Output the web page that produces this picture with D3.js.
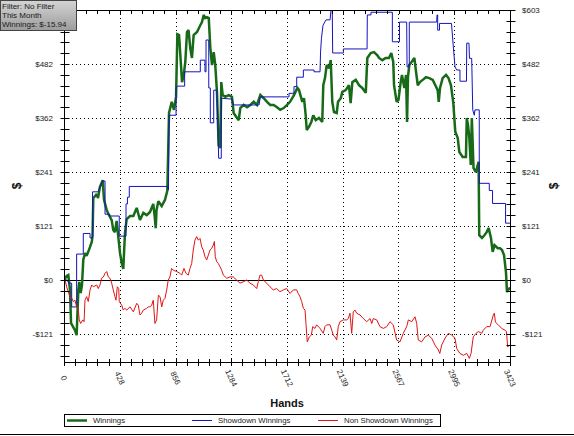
<!DOCTYPE html>
<html><head><meta charset="utf-8">
<script src="https://cdn.jsdelivr.net/npm/d3@7"></script>
<style>
html,body{margin:0;padding:0;background:#fff;}
svg{display:block;font-family:"Liberation Sans",Arial,sans-serif;}
</style></head>
<body>
<svg id="c" width="574" height="436"></svg>
<script>
// ---------- data ----------
const xTickValues = [0, 428, 856, 1284, 1712, 2139, 2567, 2995, 3423];
const xTickLabels = ["0", "428", "856", "1284", "1712", "2139", "2567", "2995", "3423"];
const yTickValues = [-120.6, 0, 120.6, 241.2, 361.8, 482.4, 603];
const yTickLabels = ["-$121", "$0", "$121", "$241", "$362", "$482", "$603"];
const seriesNames = ["Winnings", "Showdown Winnings", "Non Showdown Winnings"];
const filterLines = ["Filter: No Filter", "This Month", "Winnings: $-15.94"];

// [hand, dollars]
const winnings = [[0,0],[21,9],[33,11],[46,-22],[54,-96],[71,-105],[84,-112],[97,-123],[110,-22],[117,-4],[128,-29],[138,-11],[148,45],[161,60],[173,54],[186,63],[200,74],[213,85],[219,98],[225,183],[251,192],[261,183],[276,208],[297,223],[307,179],[328,156],[342,147],[366,134],[378,112],[391,107],[404,132],[417,96],[430,60],[443,38],[455,25],[468,105],[481,136],[507,143],[532,143],[558,161],[583,134],[609,150],[635,145],[660,152],[685,170],[695,145],[704,116],[710,156],[724,176],[750,165],[775,179],[793,199],[806,373],[827,398],[844,380],[860,409],[870,549],[883,547],[893,502],[906,442],[919,458],[931,487],[944,554],[956,558],[969,518],[982,496],[995,547],[1021,554],[1046,569],[1059,576],[1072,592],[1084,585],[1098,587],[1111,585],[1123,518],[1136,480],[1149,509],[1161,480],[1174,420],[1187,301],[1200,295],[1207,442],[1218,413],[1238,409],[1264,413],[1289,409],[1302,373],[1328,362],[1341,357],[1353,384],[1379,391],[1405,386],[1430,391],[1456,398],[1481,391],[1507,413],[1533,406],[1558,398],[1583,391],[1609,391],[1635,386],[1660,380],[1686,384],[1712,391],[1735,398],[1765,413],[1791,429],[1804,424],[1829,398],[1842,406],[1855,368],[1863,335],[1880,342],[1898,353],[1913,368],[1932,357],[1957,362],[1982,353],[1990,435],[2003,451],[2016,480],[2034,473],[2047,491],[2059,398],[2072,375],[2093,373],[2103,398],[2124,406],[2136,420],[2162,424],[2187,435],[2200,395],[2213,442],[2239,447],[2264,435],[2289,429],[2316,418],[2328,496],[2354,507],[2379,509],[2405,502],[2418,496],[2443,491],[2469,496],[2494,496],[2512,507],[2527,487],[2533,435],[2553,398],[2567,402],[2584,442],[2594,458],[2612,429],[2625,458],[2633,353],[2640,453],[2650,480],[2663,485],[2689,496],[2702,465],[2715,435],[2732,442],[2753,447],[2778,453],[2804,451],[2830,447],[2850,435],[2868,424],[2876,398],[2886,429],[2906,451],[2932,458],[2951,451],[2970,435],[2988,395],[3003,331],[3022,317],[3034,286],[3060,275],[3085,275],[3091,362],[3101,346],[3111,317],[3122,257],[3130,362],[3143,250],[3161,241],[3182,264],[3187,100],[3208,94],[3227,100],[3244,107],[3259,116],[3277,94],[3290,63],[3304,78],[3329,71],[3346,71],[3362,67],[3377,56],[3392,18],[3400,-27],[3410,-18],[3418,-22],[3423,-16]];

const showdown = [[0,0],[23,0],[38,-7],[59,-7],[59,-60],[97,-60],[97,58],[148,58],[148,104],[200,104],[200,94],[219,94],[219,197],[261,197],[276,208],[297,221],[315,221],[315,147],[348,147],[348,143],[424,143],[424,98],[476,98],[476,170],[487,170],[487,185],[501,185],[501,209],[793,209],[802,201],[806,368],[860,368],[860,429],[870,433],[926,433],[926,465],[1046,465],[1046,491],[1082,491],[1082,465],[1090,465],[1090,536],[1111,536],[1111,429],[1123,429],[1123,351],[1149,351],[1149,424],[1174,424],[1187,272],[1207,272],[1207,406],[1289,404],[1301,391],[1497,391],[1507,409],[1727,409],[1727,417],[1765,417],[1765,432],[1786,432],[1786,453],[1837,453],[1837,469],[1919,469],[1919,465],[1965,465],[1969,509],[1976,540],[1988,569],[2011,581],[2042,581],[2049,603],[2059,603],[2062,507],[2144,507],[2144,516],[2326,516],[2328,592],[2356,592],[2356,598],[2520,598],[2520,532],[2575,532],[2575,576],[2630,576],[2633,476],[2650,476],[2650,576],[2860,576],[2863,592],[2868,592],[2868,558],[2882,558],[2882,573],[2974,573],[2988,521],[3001,476],[3014,469],[3039,469],[3039,444],[3089,444],[3091,529],[3108,529],[3112,495],[3129,495],[3137,380],[3149,368],[3154,380],[3187,380],[3187,216],[3264,216],[3264,200],[3289,200],[3289,171],[3389,171],[3389,127],[3423,127]];

const nonShowdown = [[0,0],[8,0],[21,-16],[46,-37],[59,-40],[71,-48],[84,-45],[97,-60],[110,-67],[117,-89],[128,-97],[144,-89],[154,-93],[161,-45],[174,-37],[186,-48],[200,-22],[213,-11],[225,-15],[251,-11],[263,-19],[276,-11],[289,4],[302,7],[315,15],[328,19],[340,7],[353,4],[366,-7],[378,-22],[391,-37],[399,-45],[409,-15],[420,-19],[424,-48],[443,-56],[455,-67],[468,-63],[481,-67],[507,-60],[532,-71],[558,-52],[570,-56],[583,-78],[596,-74],[609,-67],[635,-63],[647,-60],[660,-60],[673,-56],[685,-45],[698,-97],[711,-89],[724,-34],[737,-37],[750,-60],[762,-45],[775,-41],[788,-22],[800,0],[813,7],[826,26],[839,22],[865,19],[890,15],[903,11],[921,26],[936,15],[954,11],[967,26],[980,37],[992,67],[1005,89],[1018,97],[1031,89],[1044,93],[1057,74],[1069,67],[1082,52],[1095,45],[1108,56],[1121,67],[1134,71],[1146,78],[1154,86],[1161,52],[1172,41],[1184,37],[1197,30],[1210,22],[1223,11],[1249,4],[1274,7],[1299,7],[1325,0],[1351,-7],[1376,-4],[1402,0],[1428,-7],[1453,-11],[1479,-19],[1491,-4],[1504,11],[1517,11],[1530,0],[1556,-7],[1581,-15],[1606,-22],[1632,-19],[1658,-26],[1683,-22],[1709,-19],[1735,-30],[1760,-22],[1786,-22],[1798,-30],[1811,-37],[1824,-48],[1837,-63],[1850,-67],[1857,-97],[1867,-138],[1883,-127],[1898,-123],[1909,-104],[1926,-108],[1939,-100],[1965,-108],[1990,-119],[2003,-104],[2016,-100],[2042,-100],[2055,-112],[2067,-123],[2080,-127],[2093,-134],[2105,-104],[2118,-93],[2144,-89],[2170,-89],[2182,-86],[2195,-74],[2208,-119],[2220,-71],[2233,-67],[2246,-74],[2272,-78],[2297,-86],[2323,-93],[2349,-86],[2362,-97],[2374,-86],[2400,-89],[2425,-104],[2451,-108],[2477,-104],[2502,-93],[2527,-100],[2553,-134],[2579,-138],[2604,-119],[2630,-104],[2643,-89],[2669,-93],[2694,-82],[2707,-97],[2719,-134],[2745,-138],[2771,-127],[2796,-123],[2822,-130],[2847,-145],[2873,-156],[2884,-164],[2899,-145],[2924,-130],[2950,-119],[2976,-123],[3001,-130],[3014,-153],[3039,-164],[3065,-168],[3091,-164],[3111,-175],[3124,-164],[3141,-127],[3162,-119],[3180,-115],[3206,-119],[3218,-112],[3244,-104],[3270,-104],[3295,-78],[3303,-74],[3311,-94],[3333,-100],[3359,-108],[3385,-112],[3396,-115],[3405,-149],[3423,-145]];

// ---------- layout ----------
const L = 64, R = 510, T = 10, B = 362;
const svg = d3.select("#c");
const x = d3.scaleLinear().domain([0, 3423]).range([L, R]);
const y = d3.scaleLinear().domain([-183, 603]).range([B, T]);
const colors = ["#176a17", "#1414c0", "#e01414"];
const widths = [2.5, 1, 1];

// grid
const grid = svg.append("g").attr("stroke", "#000").attr("stroke-width", 1).attr("stroke-dasharray", "1,3");
grid.selectAll("line.v").data(xTickValues.slice(1, -1)).join("line")
  .attr("x1", d => Math.round(x(d)) + 0.5).attr("x2", d => Math.round(x(d)) + 0.5)
  .attr("y1", T).attr("y2", B);
grid.selectAll("line.h").data(yTickValues.filter(v => v !== 0 && v < 600)).join("line")
  .attr("y1", d => Math.round(y(d)) + 0.5).attr("y2", d => Math.round(y(d)) + 0.5)
  .attr("x1", L).attr("x2", R);

// zero line
svg.append("line").attr("x1", L).attr("x2", R)
  .attr("y1", Math.round(y(0)) + 0.5).attr("y2", Math.round(y(0)) + 0.5)
  .attr("stroke", "#000");

// series
svg.append("clipPath").attr("id", "clip").append("rect")
  .attr("x", L).attr("y", T).attr("width", R - L).attr("height", B - T);
const line = d3.line().x(d => x(d[0])).y(d => y(d[1]));
const gData = svg.append("g").attr("clip-path", "url(#clip)");
[winnings, showdown, nonShowdown].forEach((s, i) => {
  gData.append("path").attr("d", line(s)).attr("fill", "none")
    .attr("stroke", colors[i]).attr("stroke-width", widths[i])
    .attr("stroke-linejoin", "miter").attr("stroke-miterlimit", 2);
});

// axes frame
const ax = svg.append("g").attr("stroke", "#000").attr("stroke-width", 1);
ax.append("line").attr("x1", L + 0.5).attr("x2", L + 0.5).attr("y1", T).attr("y2", B + 0.5);
ax.append("line").attr("x1", R + 0.5).attr("x2", R + 0.5).attr("y1", T).attr("y2", B + 0.5);
ax.append("line").attr("x1", L).attr("x2", R + 1).attr("y1", B + 0.5).attr("y2", B + 0.5);
ax.append("line").attr("x1", L).attr("x2", R + 1).attr("y1", T + 0.5).attr("y2", T + 0.5);

// minor ticks
const yStep = 603 / 25;
const yMinor = d3.range(-7, 26).map(k => k * yStep);
const xStep = 3423 / 40;
const xMinor = d3.range(0, 41).map(k => k * xStep);
[L, R].forEach(ax0 => {
  ax.selectAll(null).data(yMinor).join("line")
    .attr("x1", ax0 + 0.5 - 4).attr("x2", ax0 + 0.5 + 5)
    .attr("y1", d => Math.round(y(d)) + 0.5).attr("y2", d => Math.round(y(d)) + 0.5);
});
ax.selectAll(null).data(xMinor).join("line")
  .attr("x1", d => Math.round(x(d)) + 0.5).attr("x2", d => Math.round(x(d)) + 0.5)
  .attr("y1", B - 3).attr("y2", B + 4);
ax.selectAll(null).data(xMinor).join("line")
  .attr("x1", d => Math.round(x(d)) + 0.5).attr("x2", d => Math.round(x(d)) + 0.5)
  .attr("y1", T).attr("y2", T + 4);

// tick labels
const lab = svg.append("g").attr("font-size", "8px").attr("fill", "#222");
yTickValues.forEach((v, i) => {
  if (v < 600) {
    lab.append("text").attr("x", 53).attr("y", y(v)).attr("dy", "0.35em")
      .attr("text-anchor", "end").text(yTickLabels[i]);
  }
  lab.append("text").attr("x", 522).attr("y", y(v)).attr("dy", "0.35em")
    .attr("text-anchor", "start").text(yTickLabels[i]);
});
xTickValues.forEach((v, i) => {
  const px = x(v), py = 378;
  lab.append("text").attr("x", px).attr("y", py).attr("dy", "0.35em")
    .attr("text-anchor", "middle")
    .attr("transform", `rotate(65,${px},${py})`).text(xTickLabels[i]);
});

// axis titles
svg.append("text").attr("x", 287).attr("y", 407).attr("text-anchor", "middle")
  .attr("font-size", "11px").attr("font-weight", "bold").attr("fill", "#111").text("Hands");
[[17, 186], [554, 186]].forEach(p => {
  svg.append("text").attr("transform", `translate(${p[0]},${p[1]}) rotate(-90)`)
    .attr("text-anchor", "middle").attr("dy", "0.35em")
    .attr("font-size", "12px").attr("font-weight", "bold").attr("fill", "#111").text("$");
});

// legend
const lg = svg.append("g");
lg.append("rect").attr("x", 64.5).attr("y", 414.5).attr("width", 376).attr("height", 12)
  .attr("fill", "#fff").attr("stroke", "#000");
const lgX = [67, 192, 318];
seriesNames.forEach((n, i) => {
  lg.append("line").attr("x1", lgX[i]).attr("x2", lgX[i] + 20)
    .attr("y1", 420.5).attr("y2", 420.5).attr("stroke", colors[i]).attr("stroke-width", i === 0 ? 2.5 : 1);
  lg.append("text").attr("x", lgX[i] + 26).attr("y", 420.5).attr("dy", "0.35em")
    .attr("font-size", "7.8px").attr("fill", "#222").text(n);
});

// bottom border
svg.append("line").attr("x1", 0).attr("x2", 574).attr("y1", 434.5).attr("y2", 434.5).attr("stroke", "#000");

// filter box
const defs = svg.append("defs");
const gr = defs.append("linearGradient").attr("id", "fg").attr("x1", 0).attr("y1", 0).attr("x2", 0).attr("y2", 1);
gr.append("stop").attr("offset", "0%").attr("stop-color", "#d4d4d4");
gr.append("stop").attr("offset", "100%").attr("stop-color", "#9c9c9c");
svg.append("rect").attr("x", 0.5).attr("y", 0.5).attr("width", 76).attr("height", 30)
  .attr("fill", "url(#fg)").attr("stroke", "#444");
filterLines.forEach((t, i) => {
  svg.append("text").attr("x", 2).attr("y", 9 + i * 9)
    .attr("font-size", "8px").attr("fill", "#1a1a1a").text(t);
});
</script>
</body></html>
